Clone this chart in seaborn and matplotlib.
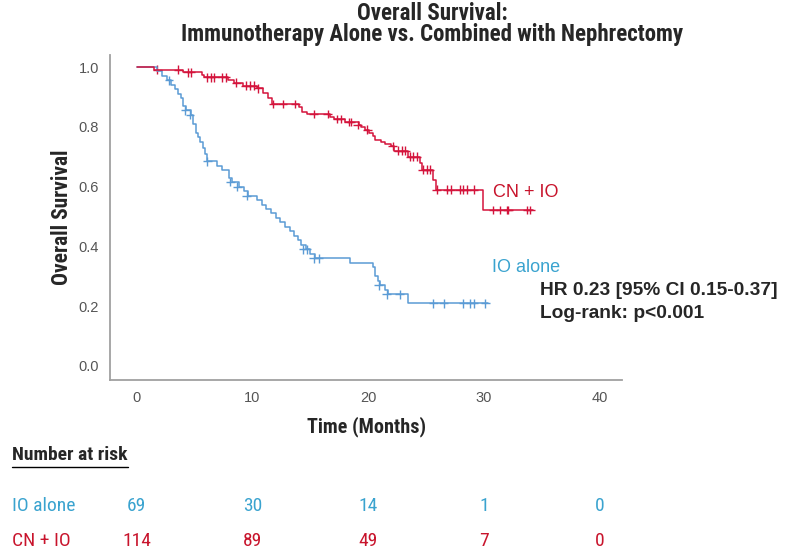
import numpy as np
import pandas as pd
import matplotlib.pyplot as plt
import matplotlib.transforms as mtransforms
import seaborn as sns

# Kaplan-Meier steps: (time in months, survival after the step)
io_time = [0, 1.8, 2.2, 2.6, 3.0, 3.3, 3.6, 3.8, 4.0, 4.3, 4.7, 4.9, 5.1, 5.3, 5.5, 5.7,
           5.9, 6.1, 6.9, 7.4, 8.0, 8.2, 8.8, 9.3, 9.6, 10.4, 10.8, 11.2, 11.6, 12.0, 12.4,
           12.8, 13.2, 13.6, 13.9, 14.2, 14.6, 15.0, 15.4, 18.4, 20.4, 20.6, 20.8, 21.0,
           21.4, 21.7, 23.4, 30.3]
io_surv = [1.0, 0.985, 0.97, 0.955, 0.94, 0.925, 0.91, 0.895, 0.87, 0.855, 0.84, 0.81,
           0.78, 0.765, 0.75, 0.73, 0.71, 0.685, 0.67, 0.655, 0.63, 0.615, 0.60, 0.585,
           0.57, 0.555, 0.54, 0.525, 0.51, 0.495, 0.48, 0.465, 0.45, 0.435, 0.42, 0.405,
           0.39, 0.375, 0.36, 0.345, 0.33, 0.30, 0.285, 0.27, 0.255, 0.24, 0.21, 0.21]

cn_time = [0, 1.5, 4.0, 5.6, 5.8, 7.9, 8.4, 9.2, 10.4, 10.9, 11.3, 11.7, 14.0, 14.3, 14.7,
           16.7, 17.0, 18.0, 19.2, 19.4, 19.7, 20.1, 20.4, 20.6, 21.1, 21.4, 22.0, 22.2,
           23.4, 24.5, 24.6, 25.6, 25.8, 29.9, 34.2]
cn_surv = [1.0, 0.991, 0.982, 0.973, 0.965, 0.956, 0.947, 0.938, 0.929, 0.913, 0.896,
           0.876, 0.866, 0.85, 0.843, 0.833, 0.826, 0.816, 0.806, 0.80, 0.79, 0.78, 0.768,
           0.756, 0.75, 0.743, 0.736, 0.72, 0.70, 0.68, 0.656, 0.622, 0.589, 0.522, 0.522]

# censored observations (tick marks)
io_cens_time = [2.8, 4.2, 4.6, 6.1, 8.1, 8.7, 9.5, 14.4, 14.7, 15.3, 15.7, 20.9, 21.6,
                22.7, 25.6, 26.5, 28.2, 28.8, 29.1, 30.1]
io_cens_surv = [0.955, 0.855, 0.84, 0.685, 0.615, 0.60, 0.57, 0.39, 0.39, 0.36, 0.36,
                0.27, 0.24, 0.24, 0.21, 0.21, 0.21, 0.21, 0.21, 0.21]

cn_cens_time = [1.8, 3.6, 4.4, 4.7, 6.1, 6.4, 6.7, 7.4, 7.7, 8.6, 9.4, 9.8, 10.1, 10.5,
                11.8, 12.6, 13.7, 15.3, 16.5, 17.3, 17.6, 18.3, 18.5, 19.1, 19.9, 22.1,
                22.6, 22.9, 23.2, 23.6, 23.9, 24.2, 24.7, 25.1, 25.3, 25.9, 26.8, 27.1,
                27.9, 28.2, 28.5, 29.1, 30.8, 31.4, 32.0, 32.1, 33.7, 34.0]
cn_cens_surv = [0.991, 0.991, 0.982, 0.982, 0.965, 0.965, 0.965, 0.965, 0.965, 0.947,
                0.938, 0.938, 0.938, 0.929, 0.876, 0.876, 0.876, 0.843, 0.843, 0.826,
                0.826, 0.816, 0.816, 0.806, 0.79, 0.736, 0.72, 0.72, 0.72, 0.70, 0.70,
                0.70, 0.656, 0.656, 0.656, 0.589, 0.589, 0.589, 0.589, 0.589, 0.589,
                0.589, 0.522, 0.522, 0.522, 0.522, 0.522, 0.522]

# number at risk table
risk_times = [0, 10, 20, 30, 40]
io_at_risk = [69, 30, 14, 1, 0]
cn_at_risk = [114, 89, 49, 7, 0]

io_color = '#5b9bd5'
cn_color = '#d4143c'
io_text = '#3aa3cf'
cn_text = '#c8142c'

sns.set_style('white')
plt.rcParams['font.family'] = ['Liberation Sans', 'DejaVu Sans']
narrow = ['Liberation Sans Narrow', 'Roboto Condensed', 'Liberation Sans', 'DejaVu Sans']

curves = pd.concat([
    pd.DataFrame({'time': io_time, 'surv': io_surv, 'group': 'IO alone'}),
    pd.DataFrame({'time': cn_time, 'surv': cn_surv, 'group': 'CN + IO'}),
])
cens = pd.concat([
    pd.DataFrame({'time': io_cens_time, 'surv': io_cens_surv, 'group': 'IO alone'}),
    pd.DataFrame({'time': cn_cens_time, 'surv': cn_cens_surv, 'group': 'CN + IO'}),
])
palette = {'IO alone': io_color, 'CN + IO': cn_color}

fig = plt.figure(figsize=(8, 5.56), dpi=100)
ax = fig.add_axes([0.1375, 0.3165, 0.64, 0.5845])

sns.lineplot(data=curves, x='time', y='surv', hue='group', palette=palette,
             drawstyle='steps-post', linewidth=1.1, legend=False, ax=ax, estimator=None,
             sort=False)
sns.scatterplot(data=cens, x='time', y='surv', hue='group', palette=palette,
                marker='+', s=40, linewidth=1.0, legend=False, ax=ax)

ax.set_xlim(-2.3, 41.9)
ax.set_ylim(-0.047, 1.04)
ax.set_xticks(risk_times)
ax.set_yticks([0.0, 0.2, 0.4, 0.6, 0.8, 1.0])
ax.set_yticklabels(['0.0', '0.2', '0.4', '0.6', '0.8', '1.0'])
ax.tick_params(axis='both', length=0, labelsize=10.5, labelcolor='#555555', pad=8)
for side in ['top', 'right']:
    ax.spines[side].set_visible(False)
for side in ['left', 'bottom']:
    ax.spines[side].set_color('#a0a0a0')
    ax.spines[side].set_linewidth(1.3)

ax.set_xlabel('Time (Months)', fontsize=14.5, fontweight='bold', family=narrow, labelpad=8)
ax.set_ylabel('Overall Survival', fontsize=15.5, fontweight='bold', family=narrow, labelpad=4)

fig.text(0.54, 0.997, 'Overall Survival:\nImmunotherapy Alone vs. Combined with Nephrectomy',
         ha='center', va='top', fontsize=16.5, fontweight='bold', family=narrow,
         linespacing=0.92)

# curve labels and statistics
ax.text(30.8, 0.579, 'CN + IO', color=cn_text, fontsize=13, va='center')
ax.text(30.7, 0.33, 'IO alone', color=io_text, fontsize=13, va='center')
fig.text(0.675, 0.478, 'HR 0.23 [95% CI 0.15-0.37]', fontsize=13.8, fontweight='bold',
         va='center')
fig.text(0.675, 0.436, 'Log-rank: p<0.001', fontsize=13.8, fontweight='bold', va='center')

# number at risk
head = fig.text(0.015, 0.181, 'Number at risk', fontsize=14, fontweight='bold',
                family=narrow, va='center')
fig.canvas.draw()
bb = head.get_window_extent().transformed(fig.transFigure.inverted())
fig.add_artist(plt.Line2D([bb.x0, bb.x1], [bb.y0 - 0.004, bb.y0 - 0.004], color='black',
                          linewidth=1.0))
blend = mtransforms.blended_transform_factory(ax.transData, fig.transFigure)
fig.text(0.015, 0.09, 'IO alone', color=io_text, fontsize=14, family=narrow, va='center')
fig.text(0.015, 0.027, 'CN + IO', color=cn_text, fontsize=14, family=narrow, va='center')
for tt, a, b in zip(risk_times, io_at_risk, cn_at_risk):
    ax.text(tt, 0.09, str(a), transform=blend, ha='center', va='center',
            color=io_text, fontsize=14, family=narrow)
    ax.text(tt, 0.027, str(b), transform=blend, ha='center', va='center',
            color=cn_text, fontsize=14, family=narrow)

fig.savefig('out.png', dpi=100)
